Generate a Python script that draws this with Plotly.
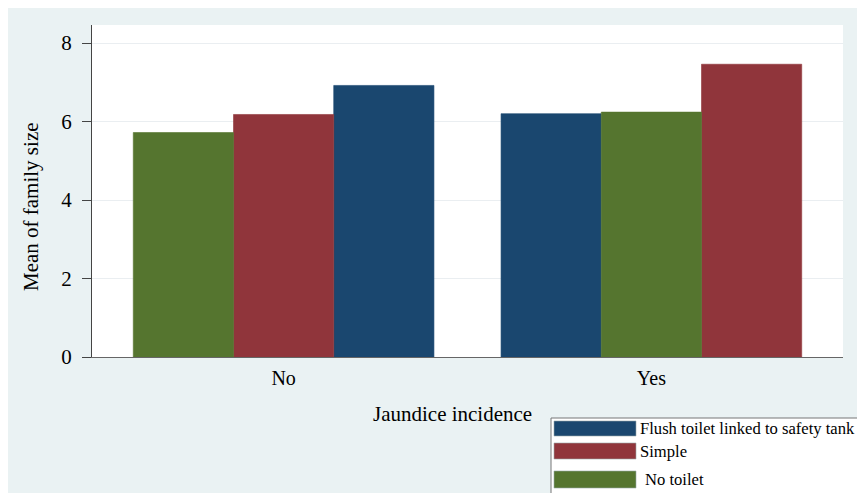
import plotly.graph_objects as go

categories = ["No", "Yes"]
series_names = ["Flush toilet linked to safety tank", "Simple", "No toilet"]
flush_values = [6.92, 6.20]
simple_values = [6.18, 7.46]
no_toilet_values = [5.72, 6.24]
y_ticks = [0, 2, 4, 6, 8]

series_values = [flush_values, simple_values, no_toilet_values]
colors = ["#1a476f", "#90353b", "#55752f"]

# page body has an 8px margin; layout numbers below are in screenshot pixels
OFF = 8
W, H = 865 - OFF, 493 - OFF
plot_left, plot_right, plot_top, plot_bottom = 92, 843, 25, 357
L = plot_left - OFF
R = W - (plot_right - OFF)
T = plot_top - OFF
B = H - (plot_bottom - OFF)
pw, ph = W - L - R, H - T - B

def px(x):
    return (x - plot_left) / pw

def py(y):
    return (plot_bottom - y) / ph

bar_w = 0.2725
group_w = bar_w * len(series_names)

# rank of each series within each category (ascending value order)
ranks = []
for ci in range(len(categories)):
    vals = [s[ci] for s in series_values]
    order = sorted(range(len(vals)), key=lambda i: vals[i])
    r = [0] * len(vals)
    for pos, i in enumerate(order):
        r[i] = pos
    ranks.append(r)

fig = go.Figure()
for si, (name, vals, col) in enumerate(zip(series_names, series_values, colors)):
    offsets = [-group_w / 2 + ranks[ci][si] * bar_w for ci in range(len(categories))]
    fig.add_trace(go.Bar(
        x=categories, y=vals, name=name,
        width=bar_w, offset=offsets,
        marker=dict(color=col, line=dict(width=0.6, color=col)),
        showlegend=False,
    ))

font_family = "Liberation Serif"
bg = "#eaf2f3"

shapes = [
    # legend box
    dict(type="rect", xref="paper", yref="paper", x0=px(551), x1=px(880), y0=py(510), y1=py(418),
         fillcolor="white", line=dict(width=1, color="#777777"), layer="above"),
]
annotations = []
sw_rows = [(421, 436), (443, 459), (471, 488)]
text_x = [638, 638, 643]
for (y0, y1), name, col, tx in zip(sw_rows, series_names, colors, text_x):
    shapes.append(dict(type="rect", xref="paper", yref="paper", x0=px(554), x1=px(636),
                       y0=py(y1), y1=py(y0), fillcolor=col, line=dict(width=0.6, color="#99aaaa"),
                       layer="above"))
    annotations.append(dict(xref="paper", yref="paper", x=px(tx), y=py((y0 + y1) / 2),
                            text=name, showarrow=False, xanchor="left", yanchor="middle",
                            font=dict(family=font_family, size=16.6, color="black")))

annotations.append(dict(xref="paper", yref="paper", x=px(31), y=py(206), text="Mean of family size",
                        textangle=-90, showarrow=False, xanchor="center", yanchor="middle",
                        font=dict(family=font_family, size=21, color="black")))
annotations.append(dict(xref="paper", yref="paper", x=px(452), y=py(414), text="Jaundice incidence",
                        showarrow=False, xanchor="center", yanchor="middle",
                        font=dict(family=font_family, size=21, color="black")))

fig.update_layout(
    width=W, height=H,
    margin=dict(l=L, r=R, t=T, b=B, pad=0),
    paper_bgcolor=bg, plot_bgcolor="white",
    barmode="overlay",
    shapes=shapes, annotations=annotations,
    font=dict(family=font_family, color="black"),
    xaxis=dict(range=[-0.521, 1.521], showline=True, linecolor="#666666", linewidth=1.2,
               ticks="", showgrid=False, zeroline=False,
               tickfont=dict(family=font_family, size=20, color="black"),
               ticklabelstandoff=3),
    yaxis=dict(range=[0, 8.46], tickvals=y_ticks, showline=True, linecolor="#444444", linewidth=1.2,
               ticks="outside", ticklen=9, tickcolor="#444444", tickwidth=1.2,
               showgrid=True, gridcolor="#eaeef1", gridwidth=1, zeroline=False,
               tickfont=dict(family=font_family, size=21, color="black"),
               ticklabelstandoff=6),
)

fig.write_html("out.html")
